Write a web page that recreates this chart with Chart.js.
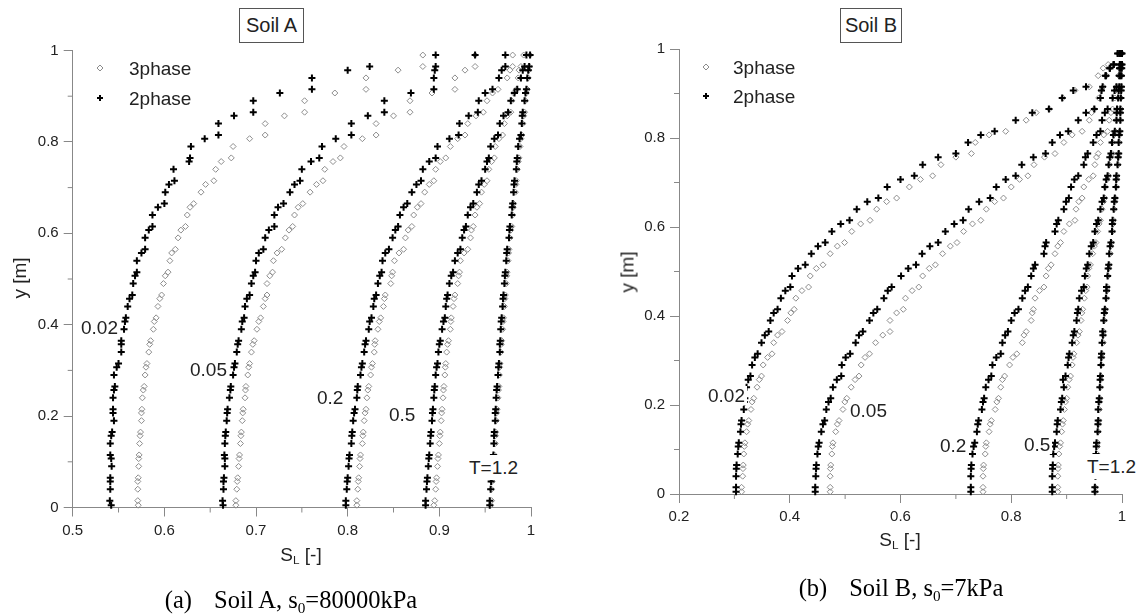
<!DOCTYPE html>
<html>
<head>
<meta charset="utf-8">
<script src="https://cdn.jsdelivr.net/npm/chart.js@4"></script>
<style>
  body { margin:0; width:1142px; height:615px; background:#fff; position:relative; overflow:hidden;
         font-family:"Liberation Sans", Arial, sans-serif; color:#222; }
  canvas { position:absolute; top:0; }
  .t { position:absolute; font-size:19px; line-height:19px; white-space:nowrap; }
  .lbl { background:#fff; padding:0 2px; margin-left:-2px; }
  .box { position:absolute; border:1px solid #555; box-sizing:border-box; display:flex;
         align-items:center; justify-content:center; font-size:20px; background:#fff; }
  .mid { position:absolute; transform:translate(-50%,-50%); white-space:nowrap; font-size:19px; line-height:19px; }
  .cap { position:absolute; transform:translate(-50%,-50%); white-space:nowrap;
         font-family:"Liberation Serif", "Times New Roman", serif; font-size:24.5px; color:#000; }
  sub { font-size:0.62em; vertical-align:-0.3em; line-height:0; }
  svg { position:absolute; overflow:visible; }
</style>
</head>
<body>
<canvas id="chartA" width="560" height="560" style="left:0"></canvas>
<canvas id="chartB" width="572" height="560" style="left:570px"></canvas>

<div class="box" style="left:239px;top:8px;width:65px;height:35px">Soil A</div>
<div class="box" style="left:840px;top:8px;width:62px;height:35px">Soil B</div>

<svg style="left:100px;top:68px"><path d="M-3 0 L0 -3 L3 0 L0 3 Z" fill="none" stroke="#8c8c8c" stroke-width="1"/></svg>
<svg style="left:100px;top:98px"><path d="M-3 0 H3 M0 -3 V3" stroke="#000" stroke-width="2"/></svg>
<div class="t" style="left:129px;top:59px">3phase</div>
<div class="t" style="left:129px;top:89px">2phase</div>

<svg style="left:706px;top:67px"><path d="M-3 0 L0 -3 L3 0 L0 3 Z" fill="none" stroke="#8c8c8c" stroke-width="1"/></svg>
<svg style="left:706px;top:96px"><path d="M-3 0 H3 M0 -3 V3" stroke="#000" stroke-width="2"/></svg>
<div class="t" style="left:733px;top:58px">3phase</div>
<div class="t" style="left:733px;top:87px">2phase</div>

<div class="t lbl" style="left:81px;top:318px">0.02</div>
<div class="t lbl" style="left:190px;top:360px">0.05</div>
<div class="t lbl" style="left:317px;top:388px">0.2</div>
<div class="t lbl" style="left:389px;top:405px">0.5</div>
<div class="t lbl" style="left:469px;top:458px;padding:3px 2px;margin-top:-3px">T=1.2</div>

<div class="t lbl" style="left:708px;top:386px">0.02</div>
<div class="t lbl" style="left:850px;top:401px">0.05</div>
<div class="t lbl" style="left:940px;top:436px">0.2</div>
<div class="t lbl" style="left:1024px;top:435px">0.5</div>
<div class="t lbl" style="left:1087px;top:457px;padding:3px 2px;margin-top:-3px">T=1.2</div>

<div class="mid" style="left:19px;top:278px;transform:translate(-50%,-50%) rotate(-90deg)">y [m]</div>
<div class="mid" style="left:627px;top:272px;transform:translate(-50%,-50%) rotate(-90deg)">y [m]</div>
<div class="mid" style="left:301px;top:554px">S<sub>L</sub> [-]</div>
<div class="mid" style="left:900px;top:539px">S<sub>L</sub> [-]</div>

<div class="cap" style="left:291px;top:600px">(a)<span style="margin-left:22px">Soil A, s<sub>0</sub>=80000kPa</span></div>
<div class="cap" style="left:901px;top:588px">(b)<span style="margin-left:22px">Soil B, s<sub>0</sub>=7kPa</span></div>

<script>
// node heights shared by every profile (top to bottom)
const yLevels = [0.99,0.965,0.94,0.915, 0.89,0.865,0.84,0.815, 0.79,0.765,0.74,0.715, 0.69,0.665,0.64,0.615,
  0.59,0.565,0.54,0.515, 0.49,0.465,0.44,0.415, 0.39,0.365,0.34,0.315, 0.29,0.265,0.24,0.215,
  0.19,0.165,0.14,0.115, 0.09,0.065,0.04,0.015, 0.005];
// the extra node just above each lower node of a pair
const yMid = [0.957,0.907,0.857,0.807, 0.757,0.707,0.657,0.607, 0.557,0.507,0.457,0.407,
  0.357,0.307,0.257,0.207, 0.157,0.107,0.057];

const yTicks = [0,0.2,0.4,0.6,0.8,1];
const yMinor = [0.1,0.3,0.5,0.7,0.9];
const aTicksX = [0.5,0.6,0.7,0.8,0.9,1];
const aMinorX = [0.55,0.65,0.75,0.85,0.95];
const bTicksX = [0.2,0.4,0.6,0.8,1];
const bMinorX = [0.3,0.5,0.7,0.9];

// Soil A, S_L at each node, T = 0.02 / 0.05 / 0.2 / 0.5 / 1.2
const a3_002 = [0.882,0.882,0.820,0.820, 0.753,0.753,0.710,0.710, 0.675,0.673,0.656,0.654, 0.640,0.632,0.625,0.623,
  0.615,0.612,0.606,0.604, 0.599,0.597,0.593,0.591, 0.588,0.585,0.583,0.581, 0.579,0.578,0.576,0.5755,
  0.575,0.574,0.573,0.5725, 0.572,0.5715,0.571,0.571, 0.5715];
const a3_002m = [0.855,0.786,0.731,0.693, 0.662,0.645,0.628,0.618, 0.608,0.601,0.595,0.589, 0.584,0.580,0.577,0.575,
  0.5735,0.572,0.571];
const a2_002 = [0.939,0.824,0.761,0.761, 0.697,0.697,0.659,0.659, 0.629,0.628,0.610,0.611, 0.601,0.600,0.587,0.587,
  0.579,0.579,0.570,0.570, 0.566,0.565,0.560,0.558, 0.556,0.553,0.553,0.550, 0.545,0.546,0.544,0.544,
  0.545,0.543,0.541,0.541, 0.5425,0.541,0.541,0.5405, 0.542];
const a2_002m = [0.800,0.726,0.676,0.644, 0.627,0.605,0.593,0.583, 0.575,0.568,0.562,0.557, 0.553,0.548,0.545,0.544,
  0.542,0.542,0.541];
const a3_005 = [0.939,0.939,0.917,0.917, 0.868,0.868,0.831,0.831, 0.796,0.792,0.775,0.773, 0.759,0.751,0.742,0.740,
  0.732,0.728,0.719,0.718, 0.712,0.712,0.708,0.705, 0.701,0.698,0.695,0.693, 0.691,0.689,0.688,0.686,
  0.685,0.684,0.683,0.682, 0.681,0.680,0.679,0.678, 0.678];
const a3_005m = [0.928,0.892,0.850,0.816, 0.784,0.766,0.746,0.736, 0.723,0.715,0.710,0.703, 0.6965,0.692,0.6885,0.6855,
  0.6835,0.6815,0.6795];
const a2_005 = [0.896,0.896,0.894,0.894, 0.840,0.840,0.804,0.804, 0.772,0.769,0.750,0.748, 0.737,0.730,0.720,0.720,
  0.710,0.708,0.700,0.699, 0.695,0.693,0.688,0.687, 0.684,0.681,0.679,0.677, 0.675,0.6725,0.671,0.669,
  0.668,0.667,0.666,0.6655, 0.666,0.665,0.6645,0.6635, 0.664];
const a2_005m = [0.895,0.869,0.822,0.787, 0.760,0.742,0.724,0.714, 0.703,0.697,0.690,0.685, 0.680,0.676,0.672,0.6685,
  0.6665,0.666,0.6645];
const a3_02 = [0.980,0.980,0.974,0.964, 0.952,0.948,0.931,0.928, 0.912,0.907,0.896,0.894, 0.884,0.880,0.872,0.870,
  0.863,0.861,0.851,0.849, 0.847,0.841,0.839,0.836, 0.833,0.830,0.829,0.827, 0.825,0.823,0.821,0.820,
  0.818,0.817,0.816,0.814, 0.813,0.812,0.811,0.810, 0.810];
const a3_02m = [0.977,0.958,0.940,0.920, 0.901,0.889,0.876,0.866, 0.856,0.848,0.840,0.8345, 0.8295,0.826,0.822,0.819,
  0.8165,0.8135,0.8115];
const a2_02 = [0.972,0.972,0.965,0.958, 0.943,0.942,0.922,0.921, 0.898,0.896,0.882,0.880, 0.870,0.865,0.857,0.855,
  0.849,0.845,0.838,0.837, 0.833,0.831,0.828,0.826, 0.823,0.820,0.818,0.816, 0.814,0.811,0.810,0.808,
  0.806,0.805,0.804,0.802, 0.801,0.800,0.799,0.798, 0.798];
const a2_02m = [0.968,0.950,0.932,0.911, 0.889,0.875,0.861,0.852, 0.841,0.835,0.829,0.824, 0.819,0.815,0.8105,0.807,
  0.8045,0.8015,0.7995];
const a3_05 = [0.992,0.989,0.986,0.984, 0.979,0.978,0.971,0.969, 0.961,0.960,0.954,0.952, 0.946,0.944,0.939,0.937,
  0.934,0.931,0.923,0.922, 0.920,0.917,0.915,0.913, 0.912,0.910,0.908,0.907, 0.906,0.905,0.904,0.903,
  0.902,0.901,0.900,0.899, 0.898,0.897,0.896,0.895, 0.894];
const a3_05m = [0.987,0.981,0.974,0.965, 0.957,0.949,0.941,0.935, 0.927,0.921,0.916,0.9125, 0.909,0.9065,0.9045,0.9025,
  0.9005,0.8985,0.8965];
const a2_05 = [0.995,0.993,0.989,0.985, 0.978,0.975,0.966,0.964, 0.956,0.954,0.950,0.946, 0.941,0.937,0.931,0.929,
  0.925,0.923,0.917,0.915, 0.911,0.909,0.907,0.906, 0.903,0.901,0.899,0.898, 0.896,0.895,0.894,0.893,
  0.892,0.891,0.890,0.889, 0.888,0.887,0.886,0.885, 0.885];
const a2_05m = [0.991,0.982,0.970,0.960, 0.952,0.943,0.934,0.927, 0.920,0.913,0.908,0.9045, 0.900,0.897,0.8945,0.8925,
  0.8905,0.8885,0.8865];
const a3_12 = [0.999,0.998,0.997,0.996, 0.994,0.993,0.991,0.990, 0.988,0.987,0.985,0.984, 0.983,0.981,0.980,0.979,
  0.977,0.976,0.975,0.974, 0.973,0.972,0.971,0.970, 0.969,0.968,0.967,0.966, 0.9655,0.965,0.964,0.963,
  0.962,0.9615,0.961,0.960, 0.959,0.958,0.957,0.957, 0.956];
const a3_12m = [0.9975,0.995,0.992,0.989, 0.986,0.9835,0.9805,0.978, 0.9755,0.9735,0.9715,0.9695, 0.9675,0.9658,0.9645,0.9625,
  0.9612,0.9595,0.9575];
const a2_12 = [0.999,0.998,0.996,0.995, 0.993,0.991,0.990,0.989, 0.986,0.985,0.984,0.982, 0.981,0.980,0.979,0.977,
  0.976,0.974,0.973,0.972, 0.971,0.970,0.969,0.968, 0.967,0.9665,0.966,0.965, 0.964,0.963,0.962,0.9615,
  0.961,0.960,0.9595,0.959, 0.958,0.957,0.956,0.955, 0.955];
const a2_12m = [0.997,0.994,0.9905,0.9875, 0.9845,0.9815,0.9795,0.9765, 0.9735,0.9715,0.9695,0.9675, 0.966,0.9645,0.9625,0.961,
  0.9597,0.9585,0.9565];

// Soil B
const b3_002 = [0.993,0.975,0.957,0.941, 0.893,0.869,0.827,0.790, 0.735,0.728,0.673,0.658, 0.616,0.593,0.557,0.545,
  0.512,0.499,0.473,0.460, 0.437,0.434,0.411,0.408, 0.396,0.386,0.371,0.368, 0.352,0.349,0.341,0.335,
  0.330,0.326,0.322,0.319, 0.317,0.316,0.315,0.313, 0.313];
const b3_002m = [0.966,0.915,0.845,0.760, 0.700,0.636,0.575,0.528, 0.486,0.448,0.422,0.402, 0.378,0.360,0.345,0.332,
  0.324,0.318,0.3155];
const b2_002 = [0.992,0.985,0.970,0.935, 0.892,0.868,0.808,0.770, 0.722,0.700,0.640,0.625, 0.576,0.560,0.521,0.508,
  0.476,0.464,0.439,0.428, 0.404,0.401,0.384,0.378, 0.365,0.362,0.349,0.342, 0.332,0.329,0.322,0.319,
  0.317,0.313,0.311,0.308, 0.306,0.304,0.303,0.303, 0.303];
const b2_002m = [0.978,0.912,0.838,0.745, 0.668,0.600,0.540,0.492, 0.451,0.415,0.392,0.371, 0.355,0.337,0.325,0.318,
  0.312,0.307,0.3035];
const b3_005 = [0.996,0.985,0.972,0.966, 0.958,0.950,0.941,0.928, 0.895,0.879,0.841,0.830, 0.800,0.786,0.755,0.745,
  0.714,0.702,0.676,0.663, 0.640,0.633,0.609,0.605, 0.581,0.581,0.555,0.544, 0.529,0.525,0.511,0.503,
  0.496,0.489,0.483,0.478, 0.476,0.474,0.473,0.473, 0.473];
const b3_005m = [0.978,0.962,0.945,0.910, 0.860,0.815,0.770,0.730, 0.690,0.652,0.621,0.593, 0.568,0.536,0.518,0.4995,
  0.486,0.477,0.4735];
const b2_005 = [0.995,0.985,0.971,0.965, 0.961,0.950,0.921,0.903, 0.874,0.862,0.819,0.808, 0.773,0.762,0.723,0.713,
  0.681,0.668,0.639,0.628, 0.601,0.584,0.570,0.558, 0.544,0.532,0.519,0.509, 0.494,0.493,0.478,0.474,
  0.466,0.463,0.457,0.453, 0.450,0.448,0.447,0.446, 0.446];
const b2_005m = [0.978,0.963,0.935,0.888, 0.840,0.790,0.742,0.697, 0.653,0.614,0.577,0.551, 0.525,0.501,0.485,0.470,
  0.460,0.4515,0.4475];
const b3_02 = [0.998,0.997,0.994,0.990, 0.987,0.983,0.977,0.974, 0.961,0.957,0.951,0.948, 0.931,0.928,0.917,0.915,
  0.895,0.889,0.879,0.872, 0.863,0.859,0.843,0.840, 0.836,0.827,0.820,0.810, 0.797,0.788,0.781,0.777,
  0.771,0.764,0.760,0.755, 0.753,0.750,0.749,0.749, 0.749];
const b3_02m = [0.9955,0.9885,0.980,0.967, 0.954,0.940,0.922,0.905, 0.884,0.867,0.851,0.838, 0.823,0.803,0.784,0.774,
  0.762,0.754,0.7495];
const b2_02 = [0.998,0.996,0.995,0.990, 0.983,0.974,0.964,0.961, 0.948,0.938,0.931,0.921, 0.908,0.904,0.895,0.885,
  0.879,0.863,0.859,0.843, 0.836,0.830,0.820,0.813, 0.800,0.794,0.784,0.781, 0.766,0.764,0.754,0.751,
  0.747,0.741,0.738,0.734, 0.730,0.728,0.727,0.727, 0.727];
const b2_02m = [0.9955,0.9865,0.969,0.954, 0.934,0.914,0.899,0.882, 0.861,0.840,0.825,0.806, 0.789,0.773,0.759,0.749,
  0.7395,0.732,0.7275];
const b3_05 = [0.999,0.999,0.998,0.996, 0.994,0.992,0.990,0.988, 0.983,0.982,0.977,0.976, 0.970,0.969,0.964,0.961,
  0.956,0.953,0.947,0.943, 0.938,0.937,0.932,0.929, 0.926,0.923,0.918,0.913, 0.910,0.907,0.902,0.900,
  0.896,0.894,0.891,0.889, 0.886,0.885,0.884,0.884, 0.884];
const b3_05m = [0.9985,0.995,0.991,0.9855, 0.9795,0.973,0.9665,0.9585, 0.950,0.940,0.9345,0.9275, 0.9205,0.9115,0.9045,0.898,
  0.8925,0.8875,0.8845];
const b2_05 = [0.998,0.998,0.997,0.995, 0.993,0.991,0.990,0.987, 0.982,0.980,0.976,0.974, 0.969,0.967,0.961,0.957,
  0.951,0.948,0.941,0.938, 0.933,0.931,0.923,0.921, 0.918,0.914,0.910,0.905, 0.902,0.898,0.895,0.892,
  0.889,0.884,0.882,0.879, 0.876,0.875,0.874,0.874, 0.874];
const b2_05m = [0.9975,0.994,0.9905,0.9845, 0.978,0.9715,0.964,0.954, 0.9445,0.9355,0.927,0.9195, 0.912,0.9035,0.8935,0.8905,
  0.883,0.8775,0.8745];
const b3_12 = [1.000,1.000,0.999,0.999, 0.998,0.998,0.997,0.996, 0.995,0.994,0.993,0.991, 0.990,0.988,0.986,0.985,
  0.983,0.981,0.979,0.977, 0.975,0.974,0.972,0.970, 0.968,0.967,0.966,0.964, 0.963,0.962,0.961,0.960,
  0.959,0.958,0.957,0.956, 0.955,0.954,0.953,0.952, 0.952];
const b3_12m = [0.9995,0.9985,0.9975,0.9955, 0.9935,0.9905,0.987,0.984, 0.980,0.976,0.973,0.969, 0.9665,0.9635,0.9615,0.9595,
  0.9575,0.9555,0.9535];
const b2_12 = [1.000,1.000,0.999,0.999, 0.998,0.997,0.997,0.996, 0.994,0.994,0.992,0.990, 0.989,0.987,0.985,0.983,
  0.982,0.980,0.977,0.976, 0.974,0.972,0.971,0.969, 0.967,0.965,0.964,0.963, 0.962,0.961,0.960,0.959,
  0.957,0.957,0.956,0.954, 0.953,0.952,0.952,0.951, 0.951];
const b2_12m = [0.9995,0.9985,0.997,0.995, 0.993,0.9895,0.986,0.9825, 0.9785,0.975,0.972,0.968, 0.9655,0.9625,0.9605,0.958,
  0.9565,0.9535,0.952];

function toPoints(curves, mids){
  const pts = [];
  curves.forEach(c => c.forEach((x, i) => pts.push({x: x, y: yLevels[i]})));
  mids.forEach(c => c.forEach((x, i) => pts.push({x: x, y: yMid[i]})));
  return pts;
}

// short minor ticks between the labelled ones
const minorTicks = {
  id: 'minorTicks',
  afterDraw(chart, args, opts){
    const {ctx, chartArea} = chart;
    const sx = chart.scales.x, sy = chart.scales.y;
    ctx.save();
    ctx.strokeStyle = '#888';
    ctx.lineWidth = 1;
    ctx.beginPath();
    opts.xMinor.forEach(v => {
      const px = sx.getPixelForValue(v);
      ctx.moveTo(px, chartArea.bottom); ctx.lineTo(px, chartArea.bottom + 5);
    });
    yMinor.forEach(v => {
      const py = sy.getPixelForValue(v);
      ctx.moveTo(chartArea.left, py); ctx.lineTo(chartArea.left - 5, py);
    });
    ctx.stroke();
    ctx.restore();
  }
};

const tickFont = {family: '"Liberation Sans", Arial, sans-serif', size: 15};

function makePanel(id, xMin, xMax, xTicks, xMinor, three, threeMid, two, twoMid, pad, yWidth){
  const axis = (vals) => ({
    type: 'linear',
    afterBuildTicks: s => { s.ticks = vals.map(v => ({value: v})); },
    ticks: {callback: v => String(v), color: '#222', font: tickFont, autoSkip: false, maxRotation: 0, padding: 5},
    grid: {drawOnChartArea: false, drawTicks: true, tickLength: 9, tickColor: '#888', color: '#888'},
    border: {display: true, color: '#888', width: 1}
  });
  const xs = Object.assign(axis(xTicks), {min: xMin, max: xMax, afterFit: s => { s.height = 40; }});
  const ys = Object.assign(axis(yTicks), {min: 0, max: 1, afterFit: s => { s.width = yWidth; }});
  return new Chart(document.getElementById(id), {
    type: 'scatter',
    data: {datasets: [
      {label: '3phase', data: toPoints(three, threeMid), order: 2, clip: false,
       pointStyle: 'rectRot', pointRadius: 3, borderWidth: 1, borderColor: '#8c8c8c', backgroundColor: 'rgba(0,0,0,0)'},
      {label: '2phase', data: toPoints(two, twoMid), order: 1, clip: false,
       pointStyle: 'cross', pointRadius: 3.5, borderWidth: 2, borderColor: '#000', backgroundColor: '#000'}
    ]},
    options: {
      responsive: false, animation: false, events: [],
      layout: {padding: pad},
      scales: {x: xs, y: ys},
      plugins: {legend: {display: false}, tooltip: {enabled: false}, minorTicks: {xMinor: xMinor}}
    },
    plugins: [minorTicks]
  });
}

makePanel('chartA', 0.5, 1, aTicksX, aMinorX,
  [a3_002, a3_005, a3_02, a3_05, a3_12], [a3_002m, a3_005m, a3_02m, a3_05m, a3_12m],
  [a2_002, a2_005, a2_02, a2_05, a2_12], [a2_002m, a2_005m, a2_02m, a2_05m, a2_12m],
  {left: 0, top: 50.5, right: 29, bottom: 12.5}, 72.7);
makePanel('chartB', 0.2, 1, bTicksX, bMinorX,
  [b3_002, b3_005, b3_02, b3_05, b3_12], [b3_002m, b3_005m, b3_02m, b3_05m, b3_12m],
  [b2_002, b2_005, b2_02, b2_05, b2_12], [b2_002m, b2_005m, b2_02m, b2_05m, b2_12m],
  {left: 0, top: 49, right: 20, bottom: 26}, 109);
</script>
</body>
</html>
